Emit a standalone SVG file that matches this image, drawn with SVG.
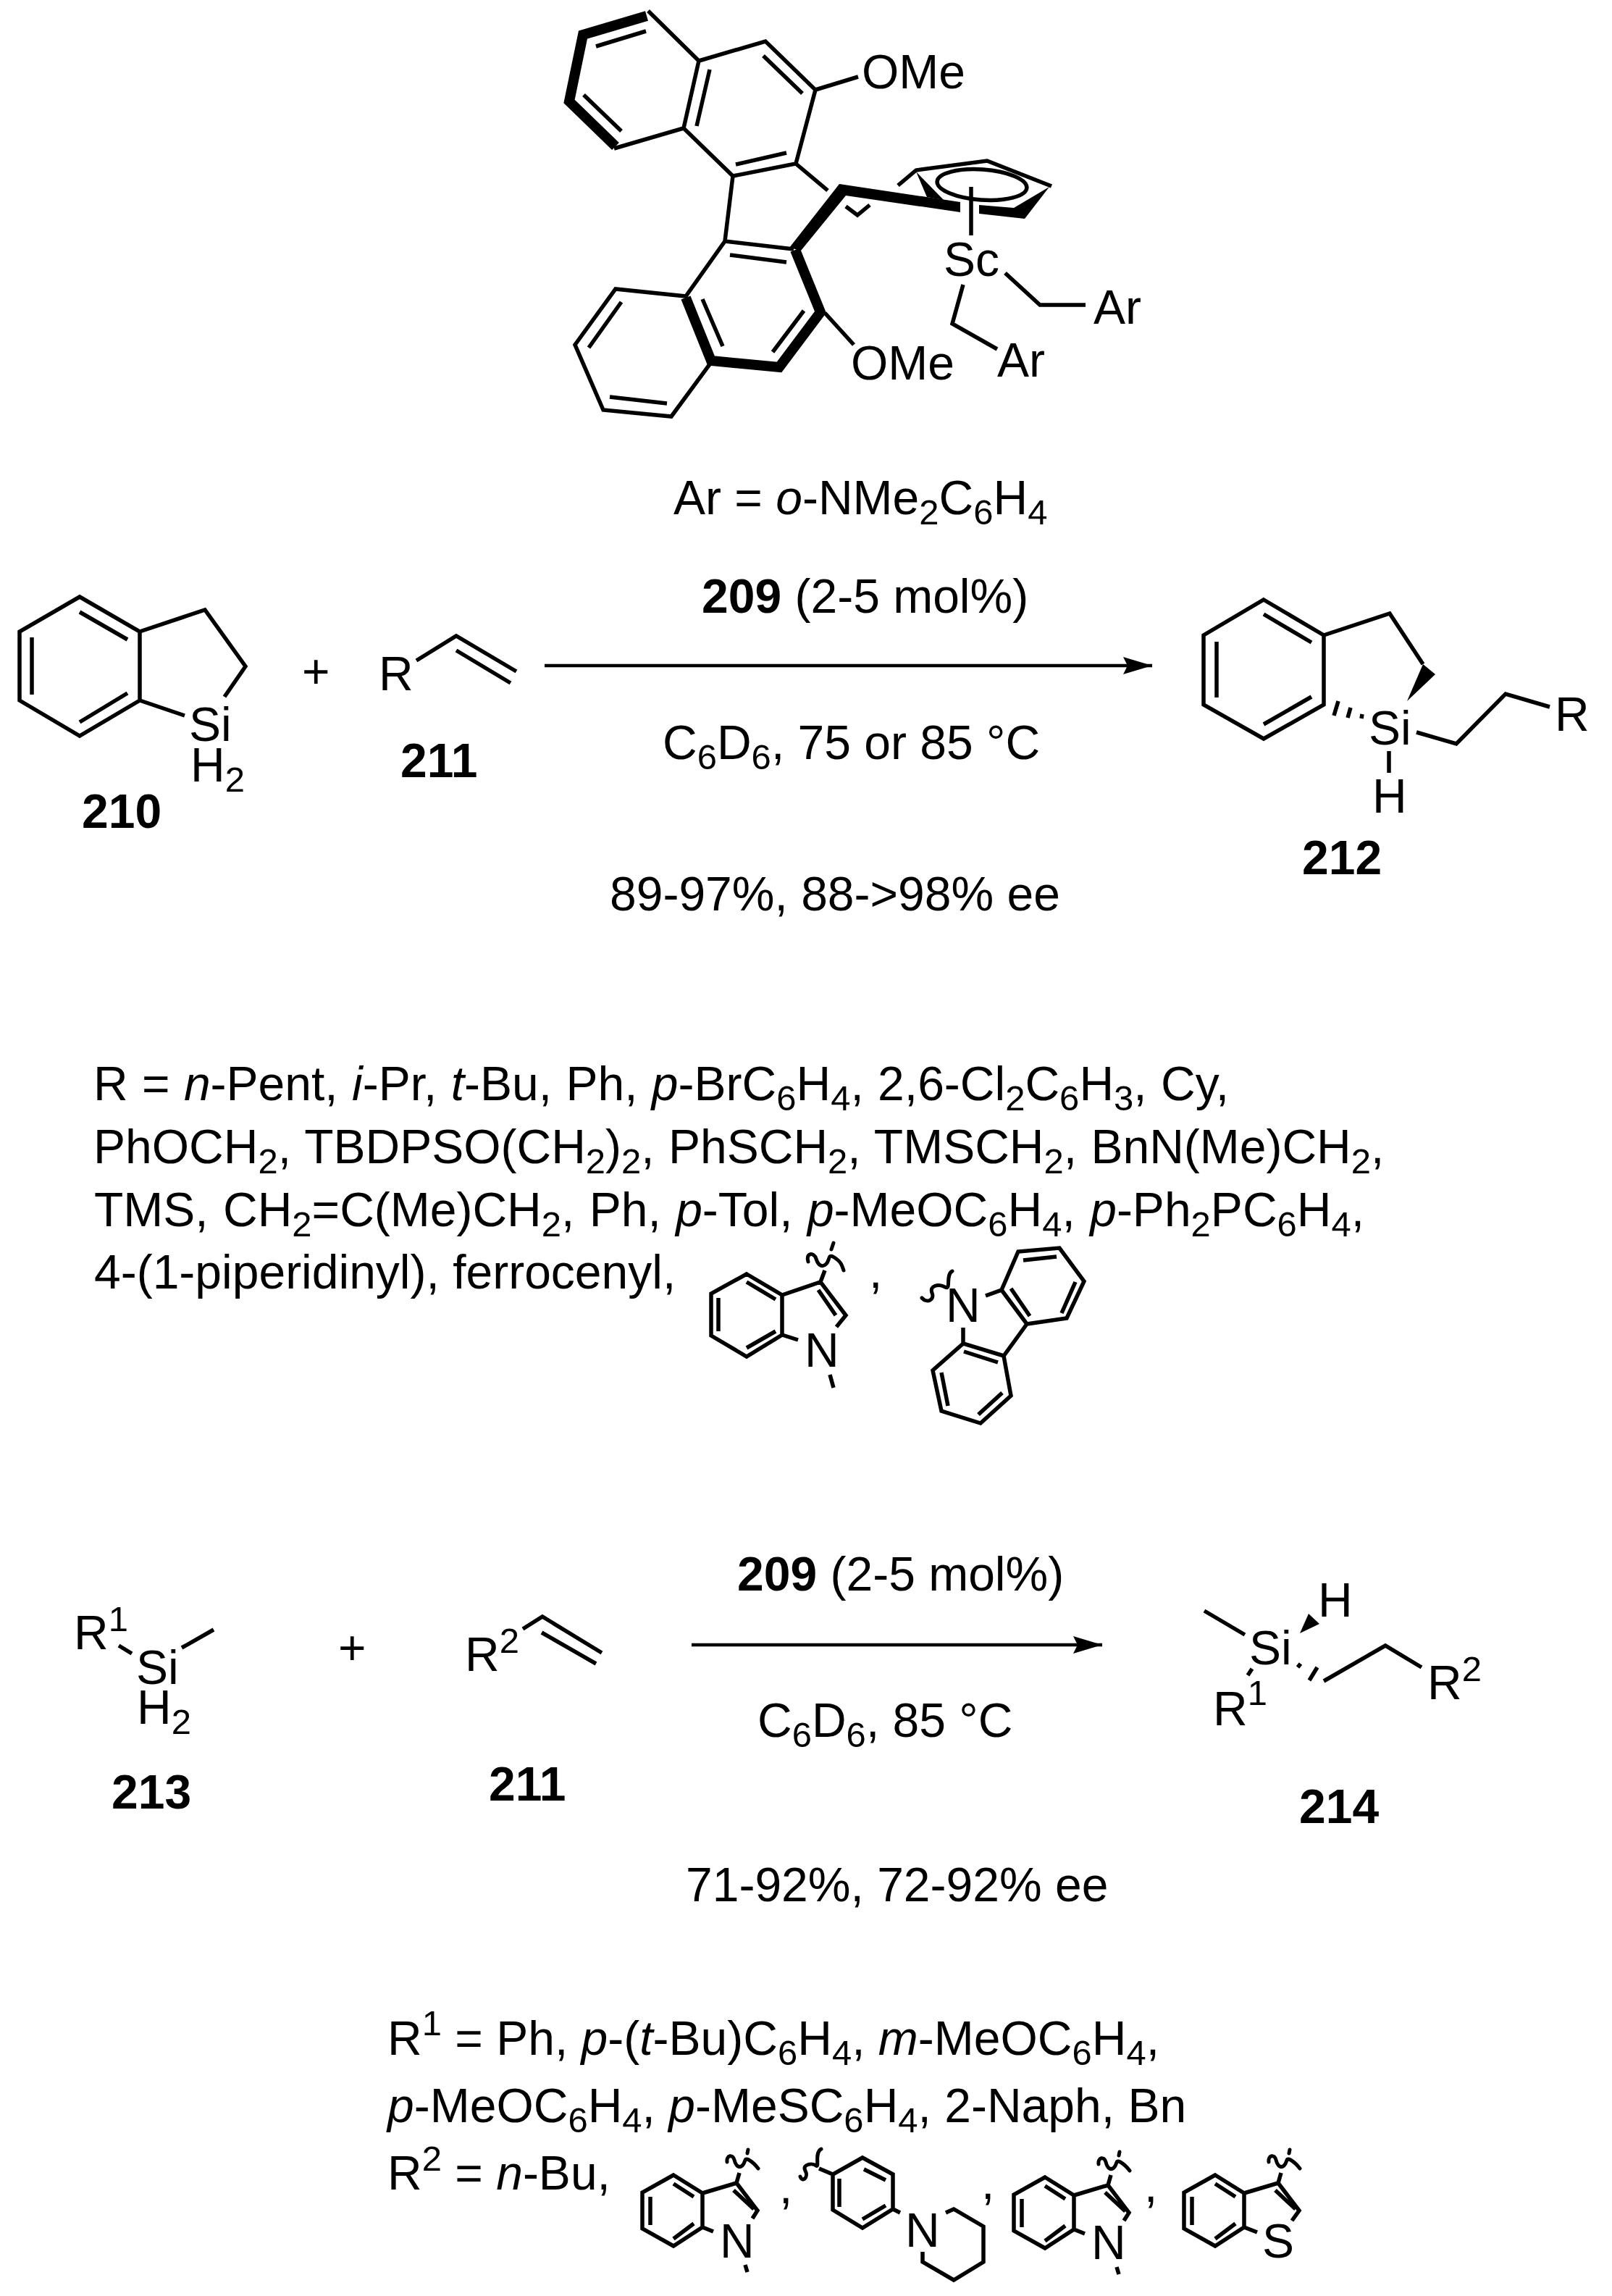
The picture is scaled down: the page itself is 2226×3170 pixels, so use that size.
<svg xmlns="http://www.w3.org/2000/svg" width="2226" height="3170" viewBox="0 0 2226 3170">
<style>
text{font-family:"Liberation Sans",Arial,sans-serif;font-size:66px;fill:#000}
.b{font-weight:bold}
.s{font-size:49px}
.i{font-style:italic}
.l{fill:none;stroke:#000;stroke-width:5.5;stroke-linejoin:miter;stroke-linecap:butt}
.k{fill:none;stroke:#000;stroke-width:14;stroke-linejoin:miter;stroke-linecap:butt}
.f{fill:#000;stroke:none}
.a{fill:none;stroke:#000;stroke-width:4.5}
.w{fill:none;stroke:#000;stroke-width:5;stroke-linecap:round}
</style>
<defs>
<marker id="ah" markerUnits="userSpaceOnUse" markerWidth="42" markerHeight="26" refX="40" refY="13" orient="auto"><path d="M0,1 L40,13 L0,25 L6,13 Z" fill="#000"/></marker>
</defs>
<rect width="2226" height="3170" fill="#fff"/>

<g id="catalyst-209">
<path class="k" d="M893,22 L805,48 L786,140 L850,202"/>
<path class="l" d="M895,15 L965,84 M848,205 L944,177 L965,84 L1057,57 L1126,124 L1099,226 L1012,243 L944,177 M1012,243 L1001,333 L947,409 L850,399 L794,476 L833,566 L927,575 L980,503 M1001,333 L1096,344 M1099,226 L1143,263 M1126,124 L1185,106 M1139,432 L1179,476"/>
<path class="l" d="M823,64 L892,43 M806,131 L858,181 M980,96 L962,174 M1054,77 L1108,129 M1016,227 L1086,211 M1008,352 L1086,362 M970,413 L998,478 M1110,429 L1067,486 M858,417 L813,480 M842,548 L921,557"/>
<path class="k" d="M1098,345 L1133,431 L1076,507 L982,498 L947,411"/>
<path class="f" d="M1159,254 L1326,279 L1326,293 L1168,270 L1106,346 L1090,342 Z"/>
<path class="f" d="M1352,283 L1400,287 L1449,258 L1415,302 L1352,295 Z"/>
<path class="f" d="M1265,237 L1280,272 L1303,276 Z"/>
<path class="l" d="M1240,256 L1265,235 L1363,222 L1452,257 M1168,285 L1184,297 L1201,283"/>
<ellipse class="l" cx="1356" cy="255" rx="62" ry="21" transform="rotate(4 1356 255)"/>
<path class="l" d="M1341,258 L1341,325 M1388,377 L1436,421 L1499,421 M1330,393 L1315,447 L1377,482"/>
<text x="1190" y="122">OMe</text>
<text x="1175" y="524">OMe</text>
<text x="1303" y="381">Sc</text>
<text x="1510" y="447">Ar</text>
<text x="1377" y="520">Ar</text>
</g>
<text x="930" y="710">Ar = <tspan class="i">o</tspan>-NMe<tspan class="s" dy="14">2</tspan><tspan dy="-14">C</tspan><tspan class="s" dy="14">6</tspan><tspan dy="-14">H</tspan><tspan class="s" dy="14">4</tspan></text>

<g id="compound-210">
<path class="l" d="M110,824 L193,872 L193,967 L110,1016 L27,967 L27,872 Z M110,845 L176,883 M176,957 L110,997 M44,880 L44,959 M193,872 L283,842 L339,920 L310,962 M193,967 L255,988"/>
<text><tspan x="261" y="1023">Si</tspan><tspan x="263" y="1079">H</tspan><tspan class="s" dy="14">2</tspan></text>
<text class="b" x="113" y="1143">210</text>
</g>
<text x="417" y="950">+</text>
<g id="compound-211a">
<path class="l" d="M575,912 L630,878 L713,927 M630,898 L705,943"/>
<text x="523" y="953">R</text>
<text class="b" x="553" y="1073">211</text>
</g>

<g id="connectors">
<line class="a" x1="752" y1="919" x2="1591" y2="919" marker-end="url(#ah)"/>
<line class="a" x1="955" y1="2271" x2="1522" y2="2271" marker-end="url(#ah)"/>
</g>

<text x="969" y="846"><tspan class="b">209</tspan> (2-5 mol%)</text>
<text x="915" y="1048">C<tspan class="s" dy="14">6</tspan><tspan dy="-14">D</tspan><tspan class="s" dy="14">6</tspan><tspan dy="-14">, 75 or 85 °C</tspan></text>
<text x="842" y="1257">89-97%, 88-&gt;98% ee</text>

<g id="compound-212">
<path class="l" d="M1745,828 L1828,877 L1828,973 L1745,1020 L1662,973 L1662,877 Z M1745,848 L1811,887 M1811,962 L1745,1000 M1680,886 L1680,963 M1828,877 L1919,847 L1965,917"/>
<path class="f" d="M1943,968 L1965,917 L1982,931 Z"/>
<path class="l" d="M1848,968 L1842,988 M1865,977 L1861,991 M1881,986 L1880,992 M1956,1011 L2011,1027 L2079,958 L2140,976 M1918,1037 L1918,1067"/>
<text x="1890" y="1028">Si</text>
<text x="2147" y="1009">R</text>
<text x="1895" y="1122">H</text>
<text class="b" x="1798" y="1207">212</text>
</g>

<g id="r-list-1">
<text x="129" y="1519" word-spacing="1">R = <tspan class="i">n</tspan>-Pent, <tspan class="i">i</tspan>-Pr, <tspan class="i">t</tspan>-Bu, Ph, <tspan class="i">p</tspan>-BrC<tspan class="s" dy="14">6</tspan><tspan dy="-14">H</tspan><tspan class="s" dy="14">4</tspan><tspan dy="-14">, 2,6-Cl</tspan><tspan class="s" dy="14">2</tspan><tspan dy="-14">C</tspan><tspan class="s" dy="14">6</tspan><tspan dy="-14">H</tspan><tspan class="s" dy="14">3</tspan><tspan dy="-14">, Cy,</tspan></text>
<text x="129" y="1606" word-spacing="1">PhOCH<tspan class="s" dy="14">2</tspan><tspan dy="-14">, TBDPSO(CH</tspan><tspan class="s" dy="14">2</tspan><tspan dy="-14">)</tspan><tspan class="s" dy="14">2</tspan><tspan dy="-14">, PhSCH</tspan><tspan class="s" dy="14">2</tspan><tspan dy="-14">, TMSCH</tspan><tspan class="s" dy="14">2</tspan><tspan dy="-14">, BnN(Me)CH</tspan><tspan class="s" dy="14">2</tspan><tspan dy="-14">,</tspan></text>
<text x="130" y="1693" word-spacing="2">TMS, CH<tspan class="s" dy="14">2</tspan><tspan dy="-14">=C(Me)CH</tspan><tspan class="s" dy="14">2</tspan><tspan dy="-14">, Ph, </tspan><tspan class="i">p</tspan>-Tol, <tspan class="i">p</tspan>-MeOC<tspan class="s" dy="14">6</tspan><tspan dy="-14">H</tspan><tspan class="s" dy="14">4</tspan><tspan dy="-14">, </tspan><tspan class="i">p</tspan>-Ph<tspan class="s" dy="14">2</tspan><tspan dy="-14">PC</tspan><tspan class="s" dy="14">6</tspan><tspan dy="-14">H</tspan><tspan class="s" dy="14">4</tspan><tspan dy="-14">,</tspan></text>
<text x="130" y="1779">4-(1-piperidinyl), ferrocenyl,</text>
<text x="1200" y="1778">,</text>
</g>

<g id="indolyl-a">
<path class="l" d="M1031,1759 L1080,1788 L1080,1843 L1031,1873 L982,1844 L982,1786 Z M1031,1770 L1071,1794 M1071,1838 L1031,1861 M992,1792 L992,1838 M1080,1788 L1133,1770 L1168,1816 L1155,1832 M1130,1781 L1154,1816 M1080,1843 L1102,1850 M1133,1770 L1139,1754 M1146,1898 L1151,1916"/>
<path class="w" d="M1116,1742 C1112,1730 1124,1728 1127,1738 S1136,1750 1141,1745 S1143,1730 1152,1736 S1162,1745 1165,1754 M1151,1716 L1148,1725"/>
<text x="1111" y="1887">N</text>
</g>
<g id="carbazolyl">
<path class="l" d="M1361,1789 L1383,1781 L1406,1728 L1463,1723 L1497,1769 L1473,1820 L1418,1828 L1383,1781 M1413,1740 L1459,1735 M1485,1770 L1466,1813 M1396,1779 L1422,1817 M1418,1828 L1386,1872 L1330,1855 L1330,1833 M1386,1872 L1396,1927 L1354,1965 L1300,1948 L1288,1892 L1330,1855 M1331,1866 L1378,1881 M1384,1923 L1351,1953 M1300,1895 L1309,1941"/>
<path class="w" d="M1273,1792 C1280,1800 1291,1795 1287,1785 S1296,1772 1305,1777 S1305,1760 1315,1755"/>
<text x="1306" y="1825">N</text>
</g>

<text x="1018" y="2196"><tspan class="b">209</tspan> (2-5 mol%)</text>
<text x="1046" y="2398">C<tspan class="s" dy="14">6</tspan><tspan dy="-14">D</tspan><tspan class="s" dy="14">6</tspan><tspan dy="-14">, 85 °C</tspan></text>
<text x="947" y="2625">71-92%, 72-92% ee</text>

<g id="compound-213">
<path class="l" d="M164,2272 L182,2283 M251,2275 L295,2250"/>
<text><tspan x="102" y="2277">R</tspan><tspan class="s" dy="-25">1</tspan><tspan x="188" y="2325">Si</tspan><tspan x="189" y="2380">H</tspan><tspan class="s" dy="14">2</tspan></text>
<text class="b" x="154" y="2497">213</text>
</g>
<text x="467" y="2298">+</text>
<g id="compound-211b">
<path class="l" d="M722,2249 L749,2232 L831,2282 M748,2254 L823,2297"/>
<text x="642" y="2307">R<tspan class="s" dy="-25">2</tspan></text>
<text class="b" x="675" y="2486">211</text>
</g>
<g id="compound-214">
<path class="l" d="M1663,2224 L1719,2257 M1792,2302 L1796,2297 M1808,2320 L1819,2302 M1723,2313 L1729,2304 M1828,2321 L1913,2272 L1963,2302"/>
<path class="f" d="M1795,2255 L1807,2228 L1822,2242 Z"/>
<text x="1725" y="2298">Si</text>
<text x="1820" y="2232">H</text>
<text x="1971" y="2346">R<tspan class="s" dy="-25">2</tspan></text>
<text x="1675" y="2382">R<tspan class="s" dy="-28">1</tspan></text>
<text class="b" x="1794" y="2517">214</text>
</g>

<g id="r-list-2">
<text x="535" y="2837">R<tspan class="s" dy="-27">1</tspan><tspan dy="27"> = Ph, </tspan><tspan class="i">p</tspan>-(<tspan class="i">t</tspan>-Bu)C<tspan class="s" dy="14">6</tspan><tspan dy="-14">H</tspan><tspan class="s" dy="14">4</tspan><tspan dy="-14">, </tspan><tspan class="i">m</tspan>-MeOC<tspan class="s" dy="14">6</tspan><tspan dy="-14">H</tspan><tspan class="s" dy="14">4</tspan><tspan dy="-14">,</tspan></text>
<text x="535" y="2930"><tspan class="i">p</tspan>-MeOC<tspan class="s" dy="14">6</tspan><tspan dy="-14">H</tspan><tspan class="s" dy="14">4</tspan><tspan dy="-14">, </tspan><tspan class="i">p</tspan>-MeSC<tspan class="s" dy="14">6</tspan><tspan dy="-14">H</tspan><tspan class="s" dy="14">4</tspan><tspan dy="-14">, 2-Naph, Bn</tspan></text>
<text x="535" y="3023">R<tspan class="s" dy="-26">2</tspan><tspan dy="26"> = </tspan><tspan class="i">n</tspan>-Bu,</text>
</g>

<g id="indolyl-b">
<path class="l" d="M930,3003 L970,3028 L970,3075 L930,3101 L887,3077 L887,3027 Z M930,3015 L958,3033 M958,3070 L930,3091 M898,3033 L898,3072 M970,3028 L1017,3014 L1046,3052 L1039,3063 M1013,3024 L1041,3050 M970,3075 L985,3081 M1017,3014 L1021,3000 M1029,3127 L1032,3137"/>
<path class="w" d="M1004,2985 C1003,2975 1012,2974 1014,2982 S1020,2994 1025,2990 S1027,2978 1034,2982 S1044,2990 1047,2994 M1033,2968 L1032,2973"/>
<text x="994" y="3117">N</text>
</g>
<text x="1076" y="3042">,</text>
<g id="piperidinylphenyl">
<path class="l" d="M1191,2979 L1233,3002 L1233,3050 L1191,3076 L1150,3051 L1150,3002 Z M1193,2995 L1223,3010 M1223,3045 L1191,3064 M1159,3008 L1159,3047 M1150,3002 L1131,2994 M1233,3050 L1243,3055 M1306,3055 L1317,3050 L1358,3074 L1358,3123 L1317,3148 L1274,3123 L1274,3109"/>
<path class="w" d="M1105,3005 C1108,3014 1117,3006 1112,2997 S1122,2986 1127,2990 S1124,2972 1134,2967"/>
<text x="1250" y="3102">N</text>
</g>
<text x="1355" y="3036">,</text>
<g id="indolyl-c">
<path class="l" d="M1443,3006 L1483,3031 L1483,3078 L1443,3104 L1400,3080 L1400,3030 Z M1443,3018 L1471,3036 M1471,3073 L1443,3094 M1411,3036 L1411,3075 M1483,3031 L1530,3017 L1559,3055 L1552,3066 M1526,3027 L1554,3053 M1483,3078 L1498,3084 M1530,3017 L1534,3003 M1542,3130 L1545,3140"/>
<path class="w" d="M1517,2988 C1516,2978 1525,2977 1527,2985 S1533,2997 1538,2993 S1540,2981 1547,2985 S1557,2993 1560,2997 M1546,2971 L1545,2976"/>
<text x="1507" y="3119">N</text>
</g>
<text x="1580" y="3040">,</text>
<g id="benzothienyl">
<path class="l" d="M1678,3003 L1718,3028 L1718,3075 L1678,3101 L1635,3077 L1635,3027 Z M1678,3015 L1706,3033 M1706,3070 L1678,3091 M1646,3033 L1646,3072 M1718,3028 L1765,3014 L1794,3052 L1784,3066 M1761,3024 L1789,3050 M1718,3075 L1736,3082 M1765,3014 L1769,3000"/>
<path class="w" d="M1752,2985 C1751,2975 1760,2974 1762,2982 S1768,2994 1773,2990 S1775,2978 1782,2982 S1792,2990 1795,2994 M1781,2968 L1780,2973"/>
<text x="1743" y="3117">S</text>
</g>
</svg>
